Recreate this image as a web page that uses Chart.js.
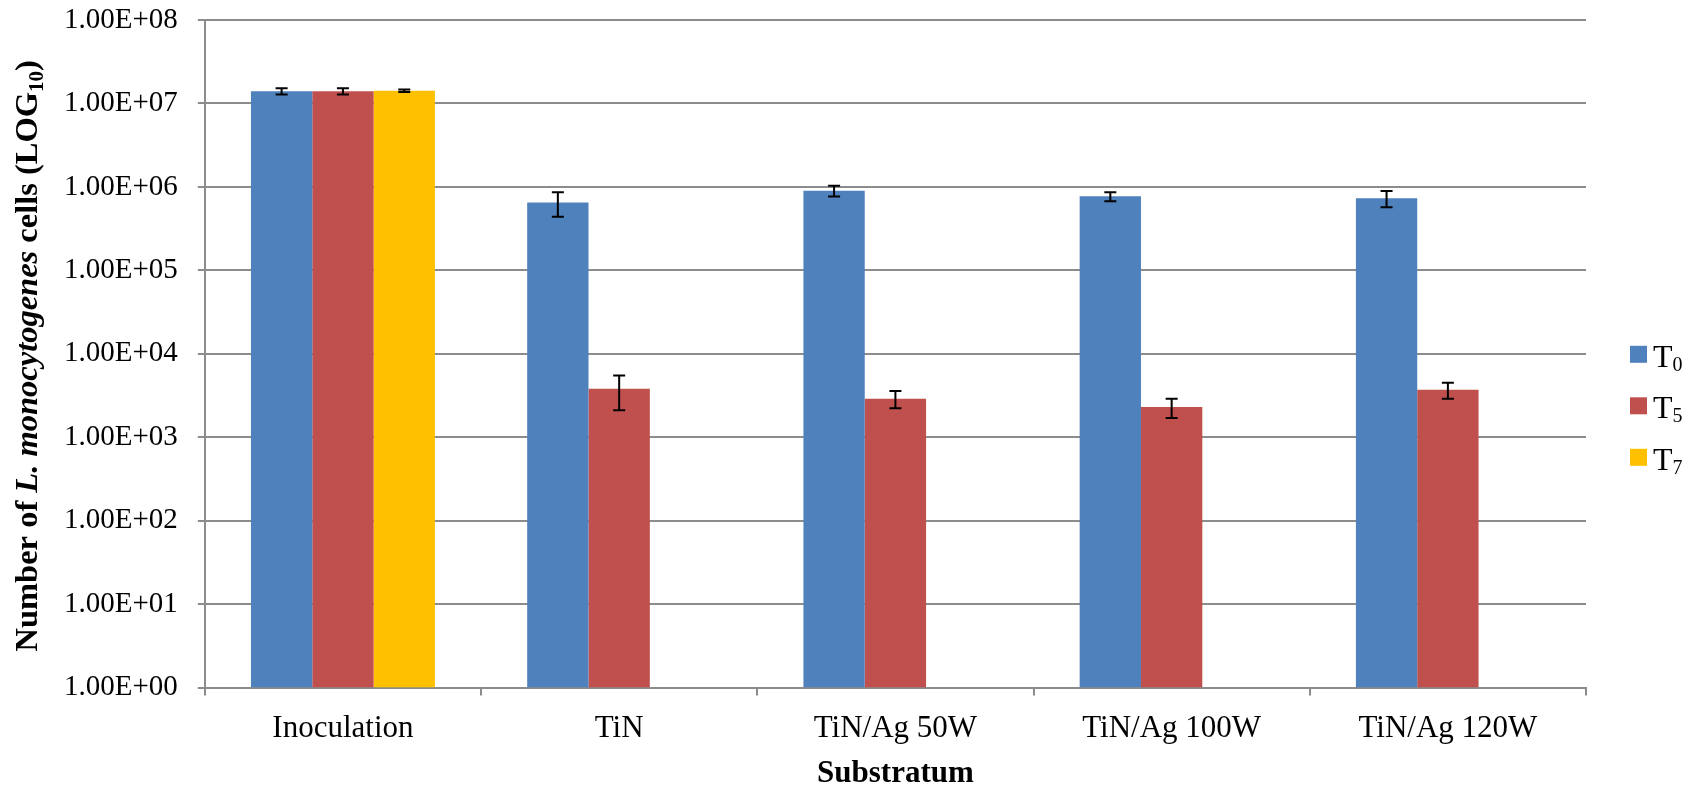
<!DOCTYPE html>
<html>
<head>
<meta charset="utf-8">
<script src="https://cdn.jsdelivr.net/npm/chart.js@4.4.0/dist/chart.umd.min.js"></script>
<style>
html,body{margin:0;padding:0;background:#fff;}
#wrap{position:relative;width:1694px;height:788px;}
</style>
</head>
<body>
<div id="wrap"><canvas id="myChart"></canvas></div>
<script>
'use strict';
// data
let categories = ['Inoculation', 'TiN', 'TiN/Ag 50W', 'TiN/Ag 100W', 'TiN/Ag 120W'];
let seriesBase = 'T';
let seriesSubs = ['0', '5', '7'];
let seriesNames = ['T\u2080', 'T\u2085', 'T\u2087'];
let t0Values = [1.40e7, 6.5e5, 9.0e5, 7.7e5, 7.3e5];
let t0Errors = [1.2e6, 2.1e5, 1.35e5, 9.5e4, 1.6e5];
let t5Values = [1.40e7, 3.8e3, 2.9e3, 2.3e3, 3.7e3];
let t5Errors = [1.2e6, 1.7e3, 6.8e2, 6.0e2, 8.0e2];
let t7Values = [1.42e7, null, null, null, null];
let t7Errors = [5.0e5, null, null, null, null];
let yTickValues = [1, 10, 100, 1e3, 1e4, 1e5, 1e6, 1e7, 1e8];
let yTickLabels = ['1.00E+00', '1.00E+01', '1.00E+02', '1.00E+03', '1.00E+04', '1.00E+05', '1.00E+06', '1.00E+07', '1.00E+08'];
let xTitle = 'Substratum';

let serif = "'Liberation Serif', 'Times New Roman', serif";
let gridColor = '#8c8c8c';
let colors = ['#4F81BD', '#C0504D', '#FFC000'];

let errorBars = {
    id: 'errorBars',
    afterDatasetsDraw(chart) {
        let ctx = chart.ctx;
        let yScale = chart.scales.y;
        ctx.save();
        ctx.strokeStyle = '#000';
        ctx.lineWidth = 2;
        chart.data.datasets.forEach(function (ds, i) {
            let meta = chart.getDatasetMeta(i);
            meta.data.forEach(function (bar, j) {
                let v = ds.data[j];
                let e = ds.errors[j];
                if (v == null || e == null) return;
                let x = bar.x;
                let yTop = yScale.getPixelForValue(v + e);
                let yBot = yScale.getPixelForValue(v - e);
                ctx.beginPath();
                ctx.moveTo(x, yTop); ctx.lineTo(x, yBot);
                ctx.moveTo(x - 6, yTop); ctx.lineTo(x + 6, yTop);
                ctx.moveTo(x - 6, yBot); ctx.lineTo(x + 6, yBot);
                ctx.stroke();
            });
        });
        ctx.restore();
    }
};

// y title has italic part and a subscript, so it is drawn by hand
let yTitle = {
    id: 'yTitle',
    afterDraw(chart) {
        let ctx = chart.ctx;
        let area = chart.chartArea;
        let parts = [
            { t: 'Number of ', f: 'bold 32.5px ' + serif, dy: 0 },
            { t: 'L. monocytogenes', f: 'italic bold 32.5px ' + serif, dy: 0 },
            { t: ' cells (LOG', f: 'bold 32.5px ' + serif, dy: 0 },
            { t: '10', f: 'bold 21px ' + serif, dy: 6 },
            { t: ')', f: 'bold 32.5px ' + serif, dy: 0 }
        ];
        let total = 0;
        parts.forEach(function (p) { ctx.font = p.f; p.w = ctx.measureText(p.t).width; total += p.w; });
        ctx.save();
        ctx.translate(37, (area.top + area.bottom) / 2 + 2);
        ctx.rotate(-Math.PI / 2);
        ctx.fillStyle = '#000';
        ctx.textBaseline = 'alphabetic';
        let x = -total / 2;
        parts.forEach(function (p) {
            ctx.font = p.f;
            ctx.fillText(p.t, x, p.dy);
            x += p.w;
        });
        ctx.restore();
    }
};

// legend with real subscripts (T + small digit)
let subLegend = {
    id: 'subLegend',
    afterDraw(chart) {
        let ctx = chart.ctx;
        let area = chart.chartArea;
        let y0 = (area.top + area.bottom) / 2;
        ctx.save();
        ctx.textBaseline = 'alphabetic';
        chart.data.datasets.forEach(function (ds, i) {
            let cy = y0 + i * 51.5;
            ctx.fillStyle = ds.backgroundColor;
            ctx.fillRect(1630, cy - 8, 17, 17);
            ctx.fillStyle = '#000';
            ctx.font = '32px ' + serif;
            ctx.fillText(seriesBase, 1653, cy + 13);
            let w = ctx.measureText(seriesBase).width;
            ctx.font = '20px ' + serif;
            ctx.fillText(seriesSubs[i], 1653 + w, cy + 17);
        });
        ctx.restore();
    }
};

let ctx = document.getElementById('myChart').getContext('2d');
let chart = new Chart(ctx, {
    type: 'bar',
    data: {
        labels: categories,
        datasets: [
            { label: seriesNames[0], data: t0Values, errors: t0Errors, backgroundColor: colors[0] },
            { label: seriesNames[1], data: t5Values, errors: t5Errors, backgroundColor: colors[1] },
            { label: seriesNames[2], data: t7Values, errors: t7Errors, backgroundColor: colors[2] }
        ]
    },
    options: {
        responsive: true,
        maintainAspectRatio: false,
        animation: false,
        layout: { padding: { left: 44, right: 108, top: 20, bottom: -5 } },
        datasets: { bar: { categoryPercentage: 0.666, barPercentage: 1.0 } },
        plugins: {
            legend: { display: false },
            tooltip: { enabled: false }
        },
        scales: {
            x: {
                grid: { display: true, drawOnChartArea: false, drawTicks: true, tickLength: 8, color: gridColor, lineWidth: 2, offset: true },
                border: { color: gridColor, width: 2 },
                ticks: { font: { family: serif, size: 31 }, color: '#000', padding: 15, maxRotation: 0 },
                title: { display: true, text: xTitle, font: { family: serif, size: 31, weight: 'bold' }, color: '#000', padding: { top: -7, bottom: 0 } }
            },
            y: {
                type: 'logarithmic',
                min: 1,
                max: 1e8,
                afterBuildTicks: function (axis) {
                    axis.ticks = yTickValues.map(function (v) { return { value: v }; });
                },
                afterFit: function (axis) {
                    // tick padding would otherwise push the plot top down
                    axis.paddingTop = 0;
                    axis.paddingBottom = 0;
                },
                grid: { color: gridColor, lineWidth: 2, tickLength: 7 },
                border: { color: gridColor, width: 2 },
                ticks: {
                    font: { family: serif, size: 29 },
                    color: '#000',
                    padding: 20,
                    callback: function (value) {
                        let k = yTickValues.indexOf(value);
                        return k >= 0 ? yTickLabels[k] : '';
                    }
                }
            }
        }
    },
    plugins: [errorBars, yTitle, subLegend]
});
</script>
</body>
</html>
